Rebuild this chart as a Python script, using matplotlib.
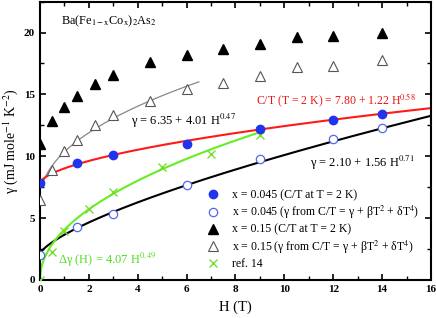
import numpy as np
import matplotlib
matplotlib.use("Agg")
import matplotlib.pyplot as plt
from matplotlib.ticker import MultipleLocator

plt.rcParams['font.family'] = ['Liberation Serif', 'DejaVu Serif']
plt.rcParams['mathtext.fontset'] = 'stix'

# Data
H_045 = [0, 1.5, 3, 6, 9, 12, 14]
ct_045 = [7.8, 9.45, 10.1, 11.0, 12.2, 12.95, 13.4]
gam_045 = [2.0, 4.3, 5.3, 7.7, 9.8, 11.4, 12.3]

H_15 = [0, 0.5, 1, 1.5, 2.25, 3, 4.5, 6, 7.5, 9, 10.5, 12, 14]
ct_15 = [11.0, 12.85, 13.95, 14.85, 15.85, 16.6, 17.6, 18.2, 18.7, 19.1, 19.6, 19.7, 20.0]
gam_15 = [6.5, 8.85, 10.4, 11.35, 12.5, 13.3, 14.5, 15.4, 15.95, 16.5, 17.2, 17.3, 17.8]

H_ref = [0, 0.5, 1, 2, 3, 5, 7, 9]
dg_ref = [0, 2.3, 4.0, 5.7, 7.1, 9.1, 10.2, 11.7]

# fit parameters (from annotations)
red_fit = (7.80, 1.22, 0.58)
black_fit = (2.10, 1.56, 0.71)
gray_fit = (6.35, 4.01, 0.47)
green_fit = (0.0, 4.07, 0.49)

fig = plt.figure(figsize=(4.36, 3.18), dpi=100)
ax = fig.add_axes([0.0917, 0.1195, 0.8968, 0.8755])

def fit(p, h):
    return p[0] + p[1] * h ** p[2]

h_full = np.linspace(0, 16, 400)
h_gray = np.linspace(0.13, 6.5, 200)
h_green = np.linspace(0, 9, 300)

ax.plot(h_gray, fit(gray_fit, h_gray), color='#888888', lw=0.9, zorder=2)
ax.plot(h_full, fit(red_fit, h_full), color='#ff1a1a', lw=1.5, zorder=2)
ax.plot(h_full, fit(black_fit, h_full), color='black', lw=1.5, zorder=2)
ax.plot(h_green, fit(green_fit, h_green), color='#66ee22', lw=1.5, zorder=2)

blue = '#2233ee'
l1, = ax.plot(H_045, ct_045, 'o', color=blue, ms=6, ls='none', zorder=4,
              label='x = 0.045 (C/T at T = 2 K)')
l2, = ax.plot(H_045, gam_045, 'o', mfc='white', mec='#5566ee', mew=0.9, ms=6, ls='none', zorder=4,
              label='x = 0.045 (γ from C/T = γ + βT$^{2}$ + δT$^{4}$)')
l3, = ax.plot(H_15, ct_15, '^', color='black', ms=6.5, ls='none', zorder=4,
              label='x = 0.15 (C/T at T = 2 K)')
l4, = ax.plot(H_15, gam_15, '^', mfc='white', mec='#555555', mew=0.8, ms=6.5, ls='none', zorder=4,
              label='x = 0.15 (γ from C/T = γ + βT$^{2}$ + δT$^{4}$)')
l5, = ax.plot(H_ref, dg_ref, 'x', color='#77dd33', ms=6, mew=1.0, ls='none', zorder=3,
              label='ref. 14')

ax.set_xlim(0, 16)
ax.set_ylim(0, 22.5)
ax.xaxis.set_major_locator(MultipleLocator(2))
ax.xaxis.set_minor_locator(MultipleLocator(1))
ax.yaxis.set_major_locator(MultipleLocator(5))
ax.yaxis.set_minor_locator(MultipleLocator(2.5))
ax.tick_params(which='both', direction='in', top=True, right=True, labelsize=8)
ax.tick_params(which='major', length=4, width=1.2)
ax.tick_params(which='minor', length=3, width=1.0)
for lab in ax.get_xticklabels() + ax.get_yticklabels():
    lab.set_fontweight('bold')
for s in ax.spines.values():
    s.set_linewidth(1.5)

ax.set_xlabel('H (T)', fontsize=10.5, labelpad=5)
ax.set_ylabel('γ (mJ mole$^{-1}$ K$^{-2}$)', fontsize=10, labelpad=3)

ax.text(0.055, 0.93, r'Ba(Fe$_{\mathrm{1-x}}$Co$_{\mathrm{x}}$)$_2$As$_2$', transform=ax.transAxes,
        fontsize=8.8, va='center', ha='left')
ax.text(0.233, 0.57, 'γ = 6.35 + 4.01 H$^{0.47}$', transform=ax.transAxes,
        fontsize=9, va='center', ha='left')
ax.text(0.552, 0.647, 'C/T (T = 2 K) = 7.80 + 1.22 H$^{0.58}$', transform=ax.transAxes,
        fontsize=8.5, va='center', ha='left', color='#ee1111')
ax.text(0.69, 0.42, 'γ = 2.10 + 1.56 H$^{0.71}$', transform=ax.transAxes,
        fontsize=9, va='center', ha='left')
ax.text(0.045, 0.072, 'Δγ (H) = 4.07 H$^{0.49}$', transform=ax.transAxes,
        fontsize=9, va='center', ha='left', color='#55dd22')

ax.legend(handles=[l1, l2, l3, l4, l5], loc='upper left', bbox_to_anchor=(0.428, 0.326),
          frameon=False, fontsize=8.5, handlelength=1.0, handletextpad=1.1,
          labelspacing=0.22, borderpad=0, borderaxespad=0)

fig.savefig('out.png', dpi=100)
